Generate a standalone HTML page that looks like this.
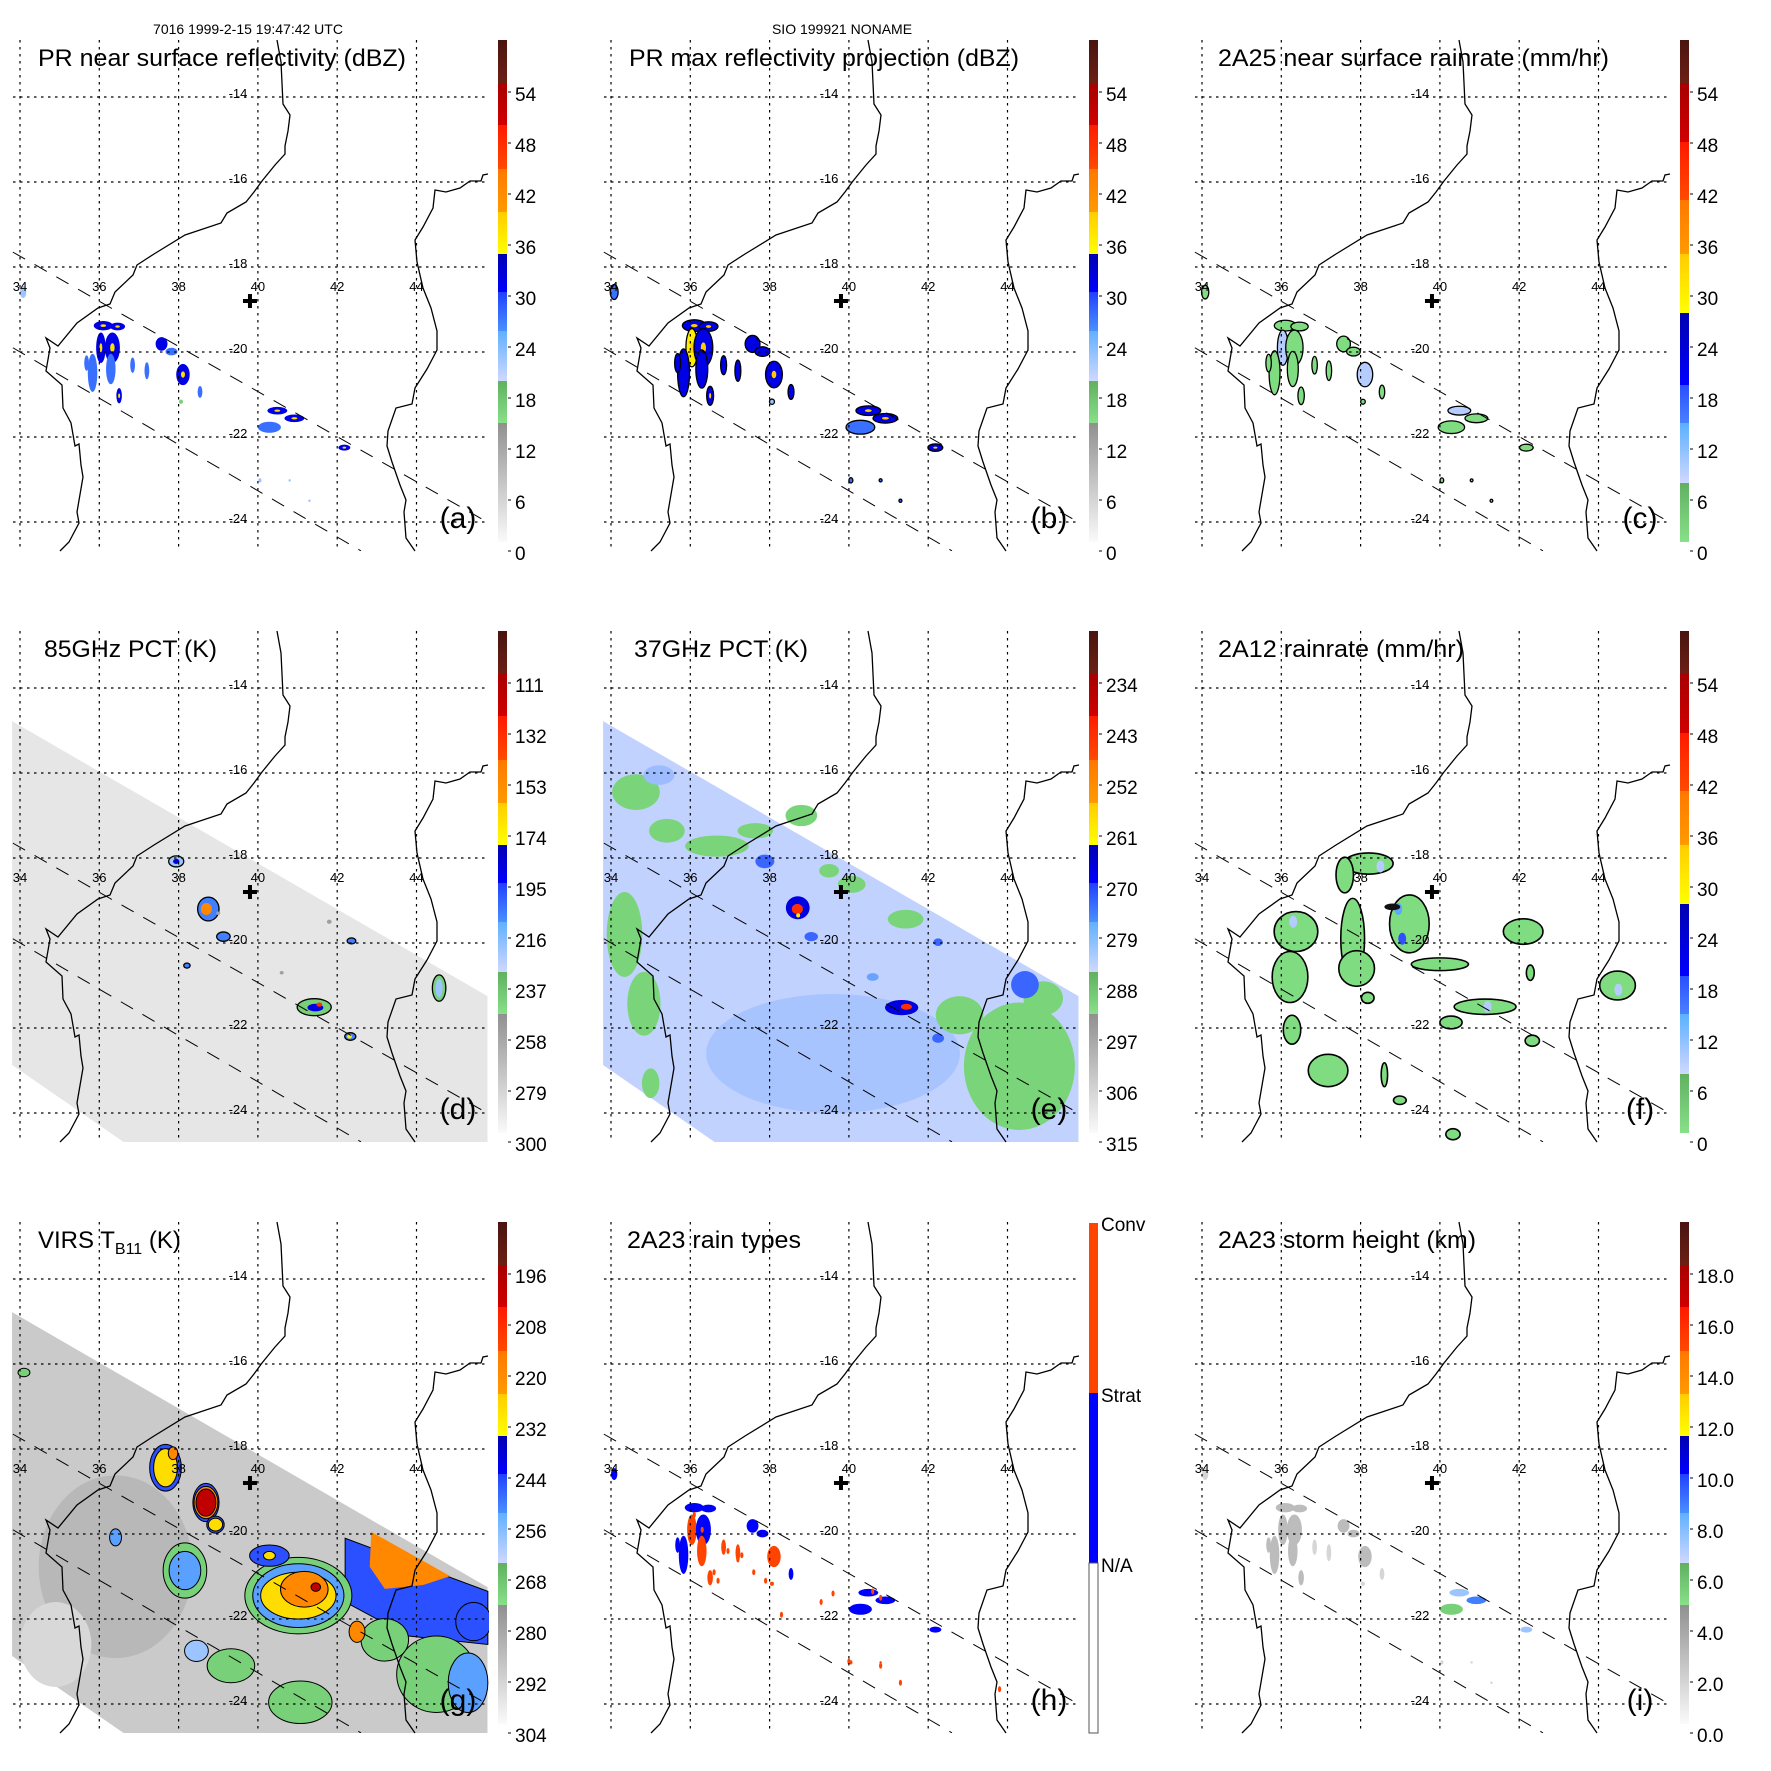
<!DOCTYPE html>
<html><head><meta charset="utf-8"><style>
html,body{margin:0;padding:0;background:#fff}
svg{display:block;font-family:"Liberation Sans",Arial,sans-serif}
</style></head><body>
<svg id="fig" xmlns="http://www.w3.org/2000/svg" width="1771" height="1771" viewBox="0 0 1771 1771">
<rect width="1771" height="1771" fill="#fff"/>
<text x="248" y="34" font-size="14" text-anchor="middle">7016 1999-2-15 19:47:42 UTC</text>
<text x="842" y="34" font-size="14" text-anchor="middle">SIO 199921 NONAME</text>
</svg>
<script>
// ---------- data ----------
const lonTicks = [34,36,38,40,42,44];
const latTicks = [-14,-16,-18,-20,-22,-24];
const labA = ['54','48','42','36','30','24','18','12','6','0'];
const labD = ['111','132','153','174','195','216','237','258','279','300'];
const labE = ['234','243','252','261','270','279','288','297','306','315'];
const labG = ['196','208','220','232','244','256','268','280','292','304'];
const labI = ['18.0','16.0','14.0','12.0','10.0','8.0','6.0','4.0','2.0','0.0'];
const labH = ['Conv','Strat','N/A'];
// PR cells: lon, lat, rx(deg), ry(deg)
const prLon = [36.10,36.46,36.04,36.33,36.29,35.83,35.68,36.50,36.84,37.20,37.57,37.82,38.11,38.54,40.49,40.92,40.29,42.18,34.08,40.05,38.06,40.80,41.30];
const prLat = [-19.38,-19.40,-19.90,-19.90,-20.40,-20.49,-20.26,-21.03,-20.31,-20.44,-19.81,-19.99,-20.53,-20.94,-21.38,-21.56,-21.77,-22.25,-18.59,-23.02,-21.17,-23.02,-23.50];
const prRx  = [0.24,0.19,0.12,0.19,0.12,0.12,0.06,0.07,0.06,0.06,0.15,0.15,0.17,0.06,0.25,0.25,0.29,0.15,0.08,0.04,0.05,0.03,0.03];
const prRy  = [0.11,0.09,0.36,0.36,0.36,0.45,0.18,0.18,0.18,0.20,0.16,0.09,0.25,0.14,0.09,0.09,0.13,0.07,0.14,0.05,0.05,0.03,0.03];
const prDbz = [30,30,33,31,28,27,28,30,26,26,29,27,31,26,31,30,25,30,24,22,19,22,22];
const prMax = [33,33,37,34,31,30,31,33,29,29,32,30,34,29,34,33,28,33,27,25,22,25,25];
const prRain= [3,3,8,4,3,3,3,3,2,2,3,3,10,2,10,4,3,5,2,1,1,1,1];
const prType= [1,1,2,1,2,1,1,2,2,2,1,1,2,1,1,1,1,1,1,2,2,2,2];
const prHt  = [3,3,3.5,3,2.5,2.5,2.5,3,2,2,3,2.5,3,2,6,8,5.5,6,2,1.5,1.5,1.5,1.5];
// convective specks (h)
const convLon = [36.1,36.3,36.95,37.3,37.2,36.6,36.7,38.1,39.6,40.6,40.8,39.3,37.6,40.0,40.8,41.3,43.8,38.3,37.9];
const convLat = [-19.55,-19.9,-20.4,-20.5,-20.6,-20.9,-21.1,-20.55,-21.4,-21.35,-21.5,-21.6,-20.9,-23.0,-23.1,-23.5,-23.65,-21.9,-21.1];
// 2A12 rain areas (f)
const fLon = [36.37,36.22,36.27,37.18,37.80,37.90,38.20,37.60,39.23,40.00,41.14,40.28,42.10,44.48,42.33,42.28,38.18,40.33,38.99,38.60];
const fLat = [-19.73,-20.80,-22.04,-23.00,-19.90,-20.60,-18.13,-18.40,-19.55,-20.50,-21.50,-21.87,-19.73,-21.00,-22.30,-20.70,-21.29,-24.50,-23.70,-23.10];
const fRx  = [0.55,0.45,0.22,0.50,0.30,0.45,0.62,0.22,0.50,0.72,0.78,0.28,0.50,0.45,0.18,0.10,0.16,0.18,0.16,0.08];
const fRy  = [0.47,0.60,0.34,0.38,0.95,0.42,0.25,0.42,0.68,0.15,0.18,0.15,0.30,0.34,0.13,0.18,0.13,0.13,0.10,0.28];
const fVal = [3,3,3,3,3,3,3,3,3,3,3,3,3,4,3,3,3,3,3,3];
const fCoreLon = [38.95,39.05,36.3,44.5,41.2,38.5];
const fCoreLat = [-19.2,-19.9,-19.5,-21.1,-21.5,-18.2];
const fCoreVal = [14,17,9,10,10,9];
// 85GHz PCT features (d)
const dLon = [37.94,38.75,39.13,41.42,44.57,42.33,42.36,38.21,38.70,41.45,44.57,42.31,41.55,37.94,40.6,41.8,39.0];
const dLat = [-18.08,-19.20,-19.85,-21.51,-21.06,-22.20,-19.95,-20.53,-19.20,-21.52,-21.06,-22.20,-21.45,-18.08,-20.7,-19.5,-19.3];
const dRx  = [0.19,0.27,0.17,0.43,0.17,0.14,0.11,0.08,0.14,0.20,0.09,0.06,0.07,0.08,0.05,0.06,0.05];
const dRy  = [0.13,0.28,0.11,0.20,0.31,0.09,0.07,0.06,0.14,0.09,0.22,0.05,0.05,0.06,0.04,0.05,0.04];
const dVal = [215,205,210,232,236,200,205,200,145,190,215,165,130,180,250,250,250];
// 37GHz PCT features (e)
const eLon = [34.63,35.41,36.67,37.64,34.34,34.83,35.0,40.07,41.43,44.3,42.79,44.9,38.8,39.5,35.21,37.88,38.71,39.05,41.33,40.6,44.44,42.25,42.25,38.70,41.45,38.72];
const eLat = [-16.45,-17.36,-17.72,-17.36,-19.80,-21.43,-23.3,-18.62,-19.44,-22.90,-21.70,-21.3,-17.0,-18.3,-16.05,-18.08,-19.17,-19.85,-21.52,-20.8,-20.98,-22.24,-19.98,-19.20,-21.50,-19.35];
const eRx  = [0.60,0.45,0.80,0.45,0.45,0.42,0.22,0.35,0.45,1.40,0.60,0.5,0.4,0.25,0.39,0.24,0.30,0.17,0.42,0.15,0.35,0.15,0.12,0.14,0.14,0.05];
const eRy  = [0.42,0.28,0.25,0.18,1.00,0.75,0.35,0.20,0.22,1.50,0.45,0.4,0.25,0.16,0.23,0.16,0.27,0.11,0.18,0.09,0.32,0.11,0.09,0.12,0.07,0.05];
const eVal = [289,289,289,289,289,289,289,289,289,289,289,289,289,289,276,268,266,268,266,272,270,268,270,243,245,258];
// VIRS TB11 features (g): outer to inner
const gLon = [36.41,34.9,41.02,41.02,41.02,41.17,41.46,38.69,38.69,38.69,38.93,38.93,37.67,37.67,37.86,38.16,38.16,40.29,40.29,38.45,44.5,45.3,43.2,41.07,39.32,36.41,45.44,34.1,42.5];
const gLat = [-20.77,-22.6,-21.45,-21.45,-21.45,-21.30,-21.25,-19.26,-19.26,-19.26,-19.78,-19.78,-18.44,-18.44,-18.10,-20.86,-20.86,-20.51,-20.51,-22.75,-23.3,-23.5,-22.49,-23.96,-23.10,-20.08,-22.06,-16.2,-22.3];
const gRx  = [1.94,0.9,1.35,1.15,0.95,0.60,0.12,0.33,0.30,0.25,0.22,0.18,0.40,0.30,0.12,0.55,0.40,0.50,0.15,0.30,1.00,0.50,0.60,0.80,0.60,0.15,0.45,0.15,0.2];
const gRy  = [2.15,1.0,0.90,0.75,0.55,0.42,0.10,0.45,0.38,0.32,0.20,0.15,0.55,0.45,0.15,0.65,0.45,0.25,0.10,0.25,0.90,0.70,0.50,0.50,0.40,0.20,0.45,0.1,0.25];
const gVal = [281,292,262,248,228,216,202,245,214,200,245,230,245,230,218,262,252,245,230,255,262,250,262,262,262,250,245,262,220];
// upper-right VIRS cold band polygons (g)
const gBlueLon = [42.2,45.8,45.8,43.8,42.2];
const gBlueLat = [-20.1,-21.35,-22.6,-22.4,-21.6];
const gOrgLon = [42.86,44.85,44.17,43.2,42.82];
const gOrgLat = [-19.95,-20.99,-21.2,-21.29,-20.77];
// coastlines (map px, panel-local)
const coastAfrica = [[277,40],[281,62],[283,104],[290,115],[288,131],[285,146],[285,154],[275,165],[262,181],[254,192],[246,202],[227,213],[221,223],[185,235],[154,254],[137,265],[133,275],[115,292],[110,304],[98,308],[77,323],[58,346],[46,338],[50,348],[46,371],[62,385],[63,408],[71,423],[75,446],[79,444],[81,465],[83,477],[77,512],[79,523],[69,542],[60,551]];
const coastMada = [[488,174],[483,175],[481,181],[470,181],[460,188],[446,192],[435,190],[433,208],[423,227],[415,240],[417,262],[423,288],[431,308],[437,331],[437,350],[427,369],[415,388],[412,404],[396,408],[388,431],[387,446],[392,462],[400,485],[406,500],[404,512],[406,538],[415,551]];

// ---------- helpers ----------
const NS='http://www.w3.org/2000/svg';
const svg=document.getElementById('fig');
function mk(tag,parent,attrs){const e=document.createElementNS(NS,tag);for(const k in attrs)e.setAttribute(k,attrs[k]);parent.appendChild(e);return e;}
function X(lon){return 20+(lon-34)*39.65;}
function Y(lat){return 97+(-14-lat)*42.5;}
function RX(d){return d*39.65;}
function RY(d){return d*42.5;}
function cmap(stops,v){let c=stops[0][1];for(const s of stops){if(v>=s[0])c=s[1];}return c;}
const palDbz=[[0,'#d0d0d0'],[15,'#78d078'],[21,'#9cc4ff'],[25,'#3a70ff'],[29,'#0000e6'],[35,'#ffee00'],[41,'#ff8800'],[46,'#ff3000'],[51,'#c00000'],[57,'#5c1a12']];
const palRain=[[0,'#80dc80'],[7,'#b4ccff'],[13,'#5aa8ff'],[17,'#3050ff'],[22,'#0000e0'],[28,'#ffee00'],[34,'#ff8800'],[44,'#ff3000'],[51,'#c00000']];
const pal85=[[0,'#5c1a12'],[111,'#c00000'],[125,'#ff3000'],[145,'#ff8800'],[165,'#ffee00'],[180,'#0000e0'],[200,'#4080ff'],[212,'#9cc4ff'],[228,'#78d078'],[245,'#a0a0a0'],[260,'#dcdcdc']];
const pal37=[[0,'#5c1a12'],[234,'#c00000'],[240,'#ff3000'],[247,'#ff8800'],[255,'#ffee00'],[262,'#0000e0'],[267,'#3a66ff'],[271,'#6aa2ff'],[275,'#9cbcff'],[280,'#c2d2ff'],[287,'#7ad47a'],[294,'#a0a0a0']];
const palIR=[[0,'#5c1a12'],[196,'#c00000'],[205,'#ff3000'],[214,'#ff8800'],[224,'#ffdd00'],[233,'#0000e0'],[240,'#2a50ff'],[247,'#5aa0ff'],[254,'#9cc4ff'],[260,'#78d078'],[268,'#a8a8a8'],[276,'#b8b8b8'],[284,'#c8c8c8'],[290,'#d8d8d8']];
const palHt=[[0,'#f2f2f2'],[1,'#d6d6d6'],[2.5,'#bcbcbc'],[4.5,'#78d078'],[6,'#9cc4ff'],[7.5,'#4080ff']];
const typeCol=['#ffffff','#0000ff','#ff4400'];

const bandA={y:[40,83,125,169,212,254,292,331,381,423,542],c:[['#4a1410','#6b2015'],['#a80000','#d00000'],['#ff1a00','#ff4a00'],['#ff7800','#ff9a00'],['#ffcc00','#ffff00'],['#0000b0','#0000ff'],['#2040ff','#4a90ff'],['#60b0ff','#d0d8ff'],['#60b060','#88e088'],['#909090','#fafafa']]};
const bandC={y:[40,83,142,200,254,313,385,423,483,542],c:[['#4a1410','#6b2015'],['#a80000','#d00000'],['#ff1a00','#ff4a00'],['#ff7800','#ff9a00'],['#ffcc00','#ffff00'],['#0000b0','#0000ff'],['#2a50ff','#4a80ff'],['#5ab0ff','#d0d8ff'],['#60b060','#88e088']]};

const panels=[
 {k:'a',c:0,r:0,title:'PR near surface reflectivity (dBZ)',tx:38,tw:368,band:bandA,lab:labA},
 {k:'b',c:1,r:0,title:'PR max reflectivity projection (dBZ)',tx:38,tw:390,band:bandA,lab:labA},
 {k:'c',c:2,r:0,title:'2A25 near surface rainrate (mm/hr)',tx:36,tw:391,band:bandC,lab:labA},
 {k:'d',c:0,r:1,title:'85GHz PCT (K)',tx:44,tw:173,band:bandA,lab:labD},
 {k:'e',c:1,r:1,title:'37GHz PCT (K)',tx:43,tw:174,band:bandA,lab:labE},
 {k:'f',c:2,r:1,title:'2A12 rainrate (mm/hr)',tx:36,tw:246,band:bandC,lab:labA},
 {k:'g',c:0,r:2,title:'VIRS T',tx:38,tw:0,band:bandA,lab:labG},
 {k:'h',c:1,r:2,title:'2A23 rain types',tx:36,tw:174,band:null,lab:labH},
 {k:'i',c:2,r:2,title:'2A23 storm height (km)',tx:36,tw:258,band:bandA,lab:labI}
];

let gradId=0;
function ell(p,lon,lat,rx,ry,fill,stroke,sw){
  const e=mk('ellipse',p,{cx:X(lon),cy:Y(lat),rx:Math.max(1,RX(rx)),ry:Math.max(1,RY(ry)),fill:fill});
  if(stroke){e.setAttribute('stroke',stroke);e.setAttribute('stroke-width',sw||1.2);}
  return e;
}
function swathPts(){return [[33.8,-14.78],[45.79,-21.25],[45.79,-24.9],[36.95,-24.9],[33.8,-22.87]].map(q=>X(q[0])+','+Y(q[1])).join(' ');}

panels.forEach(P=>{
  const g=mk('g',svg,{transform:`translate(${P.c*591} ${P.r*591})`});
  
  
  const cid='clip'+P.k;
  const cp=mk('clipPath',g,{id:cid});mk('rect',cp,{x:12,y:40,width:477,height:511});
  const m=mk('g',g,{'clip-path':`url(#${cid})`});
  
  

  if(P.k==='a'||P.k==='b'||P.k==='c'||P.k==='i'){
    for(let i=0;i<prLon.length;i++){
      let v,fill,stroke=null,sc=1;
      if(P.k==='a'){v=prDbz[i];fill=cmap(palDbz,v);}
      if(P.k==='b'){v=prMax[i];fill=cmap(palDbz,v);stroke='#000';sc=1.25;}
      if(P.k==='c'){v=prRain[i];fill=cmap(palRain,v);stroke='#000';sc=1.15;}
      if(P.k==='i'){v=prHt[i];fill=cmap(palHt,v);}
      const e=ell(m,prLon[i],prLat[i],prRx[i]*sc,prRy[i]*sc,fill,stroke,1.3);
      
      
      if(P.k==='a'&&v>=30){ell(m,prLon[i],prLat[i],prRx[i]*0.3,prRy[i]*0.3,'#ffdd00');}
      if(P.k==='b'&&v>=33){ell(m,prLon[i],prLat[i],prRx[i]*0.35,prRy[i]*0.35,'#ffcc00');}
    }
  }
  if(P.k==='h'){
    for(let i=0;i<prLon.length;i++){
      const e=ell(m,prLon[i],prLat[i],prRx[i],prRy[i],typeCol[prType[i]]);
      
      
    }
    for(let i=0;i<convLon.length;i++){
      const e=ell(m,convLon[i],convLat[i],0.04,0.07,typeCol[2]);
      
      
    }
  }
  if(P.k==='f'){
    for(let i=0;i<fLon.length;i++){
      const e=ell(m,fLon[i],fLat[i],fRx[i],fRy[i],cmap(palRain,fVal[i]),'#000',1.6);
      
      
    }
    for(let i=0;i<fCoreLon.length;i++){
      const e=ell(m,fCoreLon[i],fCoreLat[i],0.1,0.14,cmap(palRain,fCoreVal[i]));
      
      
    }
    ell(m,38.8,-19.15,0.2,0.08,'#111');
  }
  if(P.k==='d'||P.k==='e'||P.k==='g'){
    const base={d:'#e6e6e6',e:'#c2d2ff',g:'#cacaca'}[P.k];
    const sw=mk('polygon',m,{points:swathPts(),fill:base});
    
    
    if(P.k==='e'){
      const inner=ell(m,39.6,-22.6,3.2,1.4,'#a8c4ff');
      
      
      for(let i=0;i<eLon.length;i++){
        const e=ell(m,eLon[i],eLat[i],eRx[i],eRy[i],cmap(pal37,eVal[i]));
        
        
      }
    }
    if(P.k==='d'){
      for(let i=0;i<dLon.length;i++){
        const e=ell(m,dLon[i],dLat[i],dRx[i],dRy[i],cmap(pal85,dVal[i]),dVal[i]>=228&&dVal[i]<245||i<8?'#000':null,1.3);
        
        
      }
    }
    if(P.k==='g'){
      const pb=mk('polygon',m,{points:gBlueLon.map((l,i)=>X(l)+','+Y(gBlueLat[i])).join(' '),fill:cmap(palIR,242),stroke:'#000','stroke-width':1});
      
      
      const po=mk('polygon',m,{points:gOrgLon.map((l,i)=>X(l)+','+Y(gOrgLat[i])).join(' '),fill:cmap(palIR,218)});
      
      
      for(let i=0;i<gLon.length;i++){
        const e=ell(m,gLon[i],gLat[i],gRx[i],gRy[i],cmap(palIR,gVal[i]),gVal[i]<268?'#000':null,1);
        
        
      }
    }
  }

  const gr=mk('g',g,{stroke:'#000','stroke-width':1.2,'stroke-dasharray':'2.5,4.5',fill:'none'});
  
  
  lonTicks.forEach(l=>mk('line',gr,{x1:X(l),y1:40,x2:X(l),y2:551}));
  latTicks.forEach(l=>mk('line',gr,{x1:13,y1:Y(l),x2:488,y2:Y(l)}));
  const ds=mk('g',g,{stroke:'#000','stroke-width':1,'stroke-dasharray':'14,11','clip-path':`url(#${cid})`});
  
  
  mk('line',ds,{x1:X(33.82),y1:Y(-17.65),x2:X(45.82),y2:Y(-24.02)});
  mk('line',ds,{x1:X(33.82),y1:Y(-19.9),x2:X(42.6),y2:Y(-24.68)});
  const cs=mk('g',g,{stroke:'#000','stroke-width':1.3,fill:'none'});
  
  
  mk('polyline',cs,{points:coastAfrica.map(p=>p.join(',')).join(' ')});
  mk('polyline',cs,{points:coastMada.map(p=>p.join(',')).join(' ')});
  lonTicks.forEach(l=>{const t=mk('text',g,{x:X(l),y:291,'font-size':13,'text-anchor':'middle'});t.textContent=String(l);
    });
  latTicks.forEach(l=>{const t=mk('text',g,{x:238,y:Y(l)+1,'font-size':13,'text-anchor':'middle'});t.textContent=String(l);
    });
  const cr=mk('path',g,{d:`M${X(39.8)-7},${Y(-18.8)}h14M${X(39.8)},${Y(-18.8)-7}v14`,stroke:'#000','stroke-width':4});
  
  
  const tt=mk('text',g,{x:P.tx,y:66,'font-size':24});
  
  
  if(P.k==='g'){
    tt.textContent='VIRS T';
    const sub=mk('tspan',tt,{'font-size':16,dy:6});sub.textContent='B11';
    const rest=mk('tspan',tt,{dy:-6});rest.textContent=' (K)';
  } else {
    tt.textContent=P.title;
    tt.setAttribute('textLength',P.tw);
    tt.setAttribute('lengthAdjust','spacingAndGlyphs');
  }
  const pl=mk('text',g,{x:458,y:528,'font-size':30,'text-anchor':'middle'});
  pl.textContent='('+P.k+')';
  
  
  const cb=mk('g',g,{});
  
  
  if(P.band){
    const B=P.band;
    for(let i=0;i<B.c.length;i++){
      const id='gr'+(gradId++);
      const lg=mk('linearGradient',cb,{id:id,x1:0,y1:0,x2:0,y2:1});
      mk('stop',lg,{offset:0,'stop-color':B.c[i][0]});mk('stop',lg,{offset:1,'stop-color':B.c[i][1]});
      mk('rect',cb,{x:498,y:B.y[i],width:9,height:B.y[i+1]-B.y[i],fill:`url(#${id})`});
    }
    P.lab.forEach((s,i)=>{
      const yy=94+51*i;
      mk('line',cb,{x1:508,y1:yy-2,x2:511,y2:yy-2,stroke:'#000','stroke-width':1});
      const t=mk('text',cb,{x:515,y:yy+7,'font-size':19});t.textContent=s;
      
    });
  } else {
    mk('rect',cb,{x:498,y:41,width:9,height:170,fill:'#ff4400'});
    mk('rect',cb,{x:498,y:211,width:9,height:170,fill:'#0000ff'});
    mk('rect',cb,{x:498,y:381,width:9,height:170,fill:'#fff',stroke:'#555','stroke-width':1});
    [49,220,390].forEach((yy,i)=>{const t=mk('text',cb,{x:510,y:yy,'font-size':19});t.textContent=P.lab[i];
      });
  }
});
</script>
</body></html>
